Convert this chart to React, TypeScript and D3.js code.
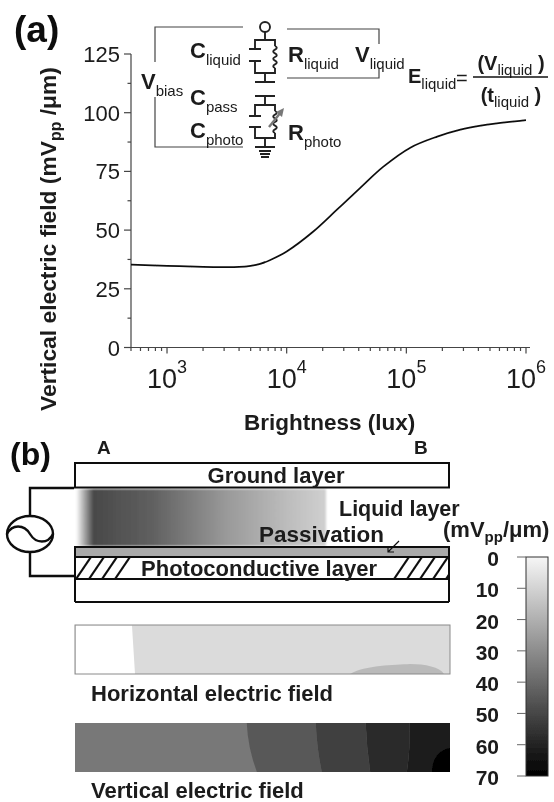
import React from "react";
import * as d3 from "d3";

// ---- data (a)
const brightnessLux = [500, 1000, 2000, 3000, 4000, 5000, 6000, 7300, 10000, 16700, 26300, 41200, 64300, 108000, 181000, 283000, 473000, 1000000];
const verticalField = [35.3, 34.8, 34.3, 34.2, 34.3, 34.8, 35.6, 37.3, 40.9, 49.4, 58.7, 68, 77, 85.1, 89.8, 92.8, 94.9, 96.8];
const yTicks = [0, 25, 50, 75, 100, 125];
const yMinorTicks = [12.5, 37.5, 62.5, 87.5, 112.5];
const xDecades = [3, 4, 5, 6];
const xMinorTicks = [500, 600, 700, 800, 900, 2000, 3000, 4000, 5000, 6000, 7000, 8000, 9000, 20000, 30000, 40000, 50000, 60000, 70000, 80000, 90000, 200000, 300000, 400000, 500000, 600000, 700000, 800000, 900000];
// ---- data (b)
const colorbarTicks = [0, 10, 20, 30, 40, 50, 60, 70];
const verticalBandFields = [37, 45.5, 52.5, 58, 63];
const verticalBandTop = [0, 0.458, 0.642, 0.775, 0.892];
const verticalBandBottom = [0, 0.485, 0.658, 0.787, 0.885];
const horizontalWhiteField = 0;
const horizontalMainField = 10;
const horizontalPatchField = 19;
const liquidStopsAt = [0, 0.07, 0.3, 0.6, 0.85, 1];
const liquidStopField = [0, 50, 44, 28, 18, 13];

const FONT = "'Liberation Sans', Arial, sans-serif";
const INK = "#1a1a1a";

const x = d3.scaleLog().domain([500, 1000000]).range([131, 526]);
const y = d3.scaleLinear().domain([0, 125]).range([347.5, 54]);
const barY = d3.scaleLinear().domain([0, 70]).range([557, 776]);
const gray = d3.scaleLinear<string>().domain([0, 70]).range(["#ffffff", "#000000"]);

const curve = d3
  .line<number>()
  .x((d) => x(d))
  .y((_, i) => y(verticalField[i]))
  .curve(d3.curveCatmullRom.alpha(0.5))(brightnessLux)!;

function Sub({ x, y, base, sub, size = 21, subSize = 15, anchor = "start" }: any) {
  return (
    <text x={x} y={y} fontFamily={FONT} textAnchor={anchor} fill={INK}>
      <tspan fontWeight="bold" fontSize={size}>{base}</tspan>
      <tspan fontSize={subSize} dy={size * 0.3}>{sub}</tspan>
    </text>
  );
}

function coil(xc: number, y0: number, y1: number) {
  const n = 6;
  const h = (y1 - y0) / n;
  let p = `M${xc},${y0}`;
  for (let i = 0; i < n; i++) {
    const s = i % 2 === 0 ? 3.5 : -3.5;
    p += ` Q${xc + s},${y0 + h * (i + 0.5)} ${xc},${y0 + h * (i + 1)}`;
  }
  return p;
}

function Cell({ top, plateA, plateB, bottom }: any) {
  return (
    <g fill="none" stroke="#222" strokeWidth={1.9}>
      <path d={`M255,${plateA} V${top} H275 V${top + 6} M275,${bottom - 5} V${bottom} H255 V${plateB}`} />
      <path d={`M249,${plateA} H261 M249,${plateB} H261`} />
      <path d={coil(275, top + 6, bottom - 5)} />
    </g>
  );
}

export default function App() {
  const hatchLeft = [84, 97, 110, 123];
  const hatchRight = [402, 415, 428, 441, 454];
  const fieldW = d3.scaleLinear().domain([0, 1]).range([75, 450]);
  const vTop = 723;
  const vBot = 772;
  return (
    <svg
      width={554}
      height={802}
      style={{ position: "absolute", left: 0, top: 0, background: "#fff" }}
      viewBox="0 0 554 802"
    >
      <defs>
        <filter id="soft" x="-2%" y="-2%" width="104%" height="104%">
          <feGaussianBlur stdDeviation="0.4" />
        </filter>
        <filter id="edge" x="-5%" y="-10%" width="110%" height="120%">
          <feGaussianBlur stdDeviation="1.2" />
        </filter>
        <clipPath id="photoClip">
          <rect x={75} y={557} width={374} height={22} />
        </clipPath>
        <linearGradient id="liquid" x1="0" x2="1" y1="0" y2="0">
          {liquidStopsAt.map((o, i) => (
            <stop key={i} offset={o} stopColor={gray(liquidStopField[i])} />
          ))}
        </linearGradient>
        <linearGradient id="bar" x1="0" x2="0" y1="0" y2="1">
          <stop offset="0" stopColor="#f6f6f6" />
          <stop offset="1" stopColor="#000" />
        </linearGradient>
      </defs>
      <g filter="url(#soft)">
        {/* panel a axes */}
        <g stroke="#444" strokeWidth={1.2} fill="none">
          <path d={`M131,${y(125)} V${y(0)} H530`} />
          {yTicks.map((t) => (
            <path key={t} d={`M124,${y(t)} H131`} />
          ))}
          {yMinorTicks.map((t) => (
            <path key={t} d={`M127.5,${y(t)} H131`} />
          ))}
          {xDecades.map((d) => (
            <path key={d} d={`M${x(10 ** d)},${y(0)} v6`} />
          ))}
          {xMinorTicks.map((t) => (
            <path key={t} d={`M${x(t)},${y(0)} v3.5`} />
          ))}
        </g>
        {yTicks.map((t) => (
          <text key={t} x={120} y={y(t) + 8} textAnchor="end" fontFamily={FONT} fontSize={22} fill={INK}>
            {t}
          </text>
        ))}
        {xDecades.map((d) => (
          <text key={d} x={x(10 ** d) - 20} y={388} fontFamily={FONT} fontSize={27} fill={INK}>
            10
            <tspan fontSize={18} dy={-15}>{d}</tspan>
          </text>
        ))}
        <path d={curve} fill="none" stroke="#111" strokeWidth={1.7} />
        <text x={244} y={430} fontFamily={FONT} fontWeight="bold" fontSize={22.5} fill={INK}>
          Brightness (lux)
        </text>
        <text transform="translate(56,411) rotate(-90)" fontFamily={FONT} fontWeight="bold" fontSize={22.8} fill={INK}>
          Vertical electric field (mV
          <tspan fontSize={16} dy={5}>pp</tspan>
          <tspan dy={-5}> /μm)</tspan>
        </text>
        <text x={14} y={42} fontFamily={FONT} fontWeight="bold" fontSize={37} fill="#111">(a)</text>

        {/* circuit */}
        <g fill="none" stroke="#444" strokeWidth={1.2}>
          <path d="M243,27 H155 V62 M155,97 V147 H243" />
          <path d="M287,29 H379 V44 M379,68 V78 H287" />
        </g>
        <g fill="none" stroke="#222" strokeWidth={1.9}>
          <circle cx={265} cy={27} r={5} />
          <path d="M265,32 V40 M265,73 V82 M255,82 H275 M255,96 H275 M265,96 V105 M265,138 V147 M255,147 H275" />
          <path d="M259,151 H271 M260,154 H270 M261,157 H269" />
        </g>
        <Cell top={40} plateA={49} plateB={61} bottom={73} />
        <Cell top={105} plateA={116} plateB={127} bottom={138} />
        <path d="M269,127 L281,112" stroke="#777" strokeWidth={2.4} fill="none" />
        <path d="M284,108 L276,112 L282,117 Z" fill="#777" />
        <Sub x={141} y={89} base="V" sub="bias" size={22} />
        <Sub x={190} y={58} base="C" sub="liquid" size={22} />
        <Sub x={190} y={105} base="C" sub="pass" size={22} />
        <Sub x={190} y={138} base="C" sub="photo" size={22} />
        <Sub x={288} y={62} base="R" sub="liquid" size={22} />
        <Sub x={288} y={140} base="R" sub="photo" size={22} />
        <Sub x={355} y={62} base="V" sub="liquid" size={22} />
        <Sub x={408} y={83} base="E" sub="liquid" size={20} />
        <text x={456} y={85} fontFamily={FONT} fontSize={20} fill={INK}>=</text>
        <path d="M473,77 H548" stroke="#111" strokeWidth={1.6} />
        <text x={511} y={70} textAnchor="middle" fontFamily={FONT} fill={INK} fontSize={20}>
          <tspan fontWeight="bold">(V</tspan>
          <tspan fontSize={15} dy={5}>liquid</tspan>
          <tspan fontWeight="bold" dy={-5}> )</tspan>
        </text>
        <text x={511} y={102} textAnchor="middle" fontFamily={FONT} fill={INK} fontSize={20}>
          <tspan fontWeight="bold">(t</tspan>
          <tspan fontSize={15} dy={5}>liquid</tspan>
          <tspan fontWeight="bold" dy={-5}> )</tspan>
        </text>

        {/* panel b */}
        <text x={10} y={465} fontFamily={FONT} fontWeight="bold" fontSize={32} fill="#111">(b)</text>
        <text x={97} y={454} fontFamily={FONT} fontWeight="bold" fontSize={19} fill={INK}>A</text>
        <text x={414} y={454} fontFamily={FONT} fontWeight="bold" fontSize={19} fill={INK}>B</text>
        <rect x={76} y={489} width={250} height={57} fill="url(#liquid)" filter="url(#edge)" />
        <rect x={75} y={463} width={374} height={24.5} fill="#fff" stroke="#111" strokeWidth={2} />
        <text x={276} y={483} textAnchor="middle" fontFamily={FONT} fontWeight="bold" fontSize={22} fill={INK}>Ground layer</text>
        <rect x={75} y={547} width={374} height={10} fill="#aaa" stroke="#111" strokeWidth={2} />
        <rect x={75} y={557} width={374} height={22} fill="#fff" stroke="#111" strokeWidth={2} />
        <path d="M75,579 V602 M449,579 V602 M75,602 H449" stroke="#111" strokeWidth={2} fill="none" />
        <g clipPath="url(#photoClip)">
          {[...hatchLeft, ...hatchRight].map((h) => (
            <path key={h} d={`M${h - 8},579 L${h + 7},557`} stroke="#111" strokeWidth={2.2} />
          ))}
        </g>
        <text x={259} y={576} textAnchor="middle" fontFamily={FONT} fontWeight="bold" fontSize={22} fill={INK}>Photoconductive layer</text>
        <text x={339} y={516} fontFamily={FONT} fontWeight="bold" fontSize={21.5} fill={INK}>Liquid layer</text>
        <text x={259} y={542} fontFamily={FONT} fontWeight="bold" fontSize={22.5} fill={INK}>Passivation</text>
        <path d="M399,541 L388,552 M388,546 V552 H394" fill="none" stroke="#111" strokeWidth={1.2} />
        <text x={443} y={537} fontFamily={FONT} fill={INK}>
          <tspan fontWeight="bold" fontSize={22}>(mV</tspan>
          <tspan fontWeight="bold" fontSize={15} dy={5}>pp</tspan>
          <tspan fontWeight="bold" fontSize={22} dy={-5}>/μm)</tspan>
        </text>

        {/* source */}
        <g fill="none" stroke="#111" strokeWidth={2.4}>
          <path d="M74,488 H30 V516 M30,552 V576 H74" />
          <ellipse cx={30} cy={534} rx={23} ry={18} />
          <path d="M7,534 C12,524 24,524 30,534 C36,544 48,544 53,534" />
        </g>

        {/* horizontal field */}
        <rect x={75} y={625} width={375} height={49} fill={gray(horizontalMainField)} />
        <path d={`M76,625.5 H132 L135,674 H76 Z`} fill={gray(horizontalWhiteField)} />
        <path d="M350,674 C365,665 395,665 410,664 C425,664 440,667 444,674 Z" fill={gray(horizontalPatchField)} />
        <rect x={75} y={625} width={375} height={49} fill="none" stroke="#8a8a8a" strokeWidth={1} />
        <text x={91} y={701} fontFamily={FONT} fontWeight="bold" fontSize={22} fill={INK}>Horizontal electric field</text>

        {/* vertical field */}
        <rect x={75} y={vTop} width={375} height={vBot - vTop} fill={gray(verticalBandFields[0])} />
        {verticalBandFields.map((f, i) => {
          const next = i + 1 < verticalBandFields.length ? i + 1 : -1;
          const xt0 = fieldW(verticalBandTop[i]);
          const xb0 = fieldW(verticalBandBottom[i]);
          const ym = (vTop + vBot) / 2;
          const left = i === 0 ? `L${xb0},${vTop}` : `Q${xt0 + 1},${ym} ${xt0},${vTop}`;
          const xt1 = next < 0 ? 450 : fieldW(verticalBandTop[next]);
          const xb1 = next < 0 ? 450 : fieldW(verticalBandBottom[next]);
          const right = next < 0 ? `L450,${vBot}` : `Q${xt1 + 1},${ym} ${xb1},${vBot}`;
          return (
            <path
              key={f}
              d={`M${xt0},${vTop} L${xt1},${vTop} ${right} L${xb0},${vBot} ${left} Z`}
              fill={gray(f)}
            />
          );
        })}
        <path d={`M432,${vBot} C432,760 438,750 450,748 V${vBot} Z`} fill="#000" />
        <text x={91} y={798} fontFamily={FONT} fontWeight="bold" fontSize={22} fill={INK}>Vertical electric field</text>

        {/* colourbar */}
        <rect x={526} y={557} width={22} height={219} fill="url(#bar)" stroke="#333" strokeWidth={1} />
        {colorbarTicks.map((t) => (
          <g key={t}>
            <path d={`M517,${barY(t)} H526`} stroke="#666" strokeWidth={1} />
            <text x={499} y={barY(t) + 9} textAnchor="end" fontFamily={FONT} fontWeight="bold" fontSize={21} fill={INK}>
              {t}
            </text>
          </g>
        ))}
      </g>
    </svg>
  );
}
